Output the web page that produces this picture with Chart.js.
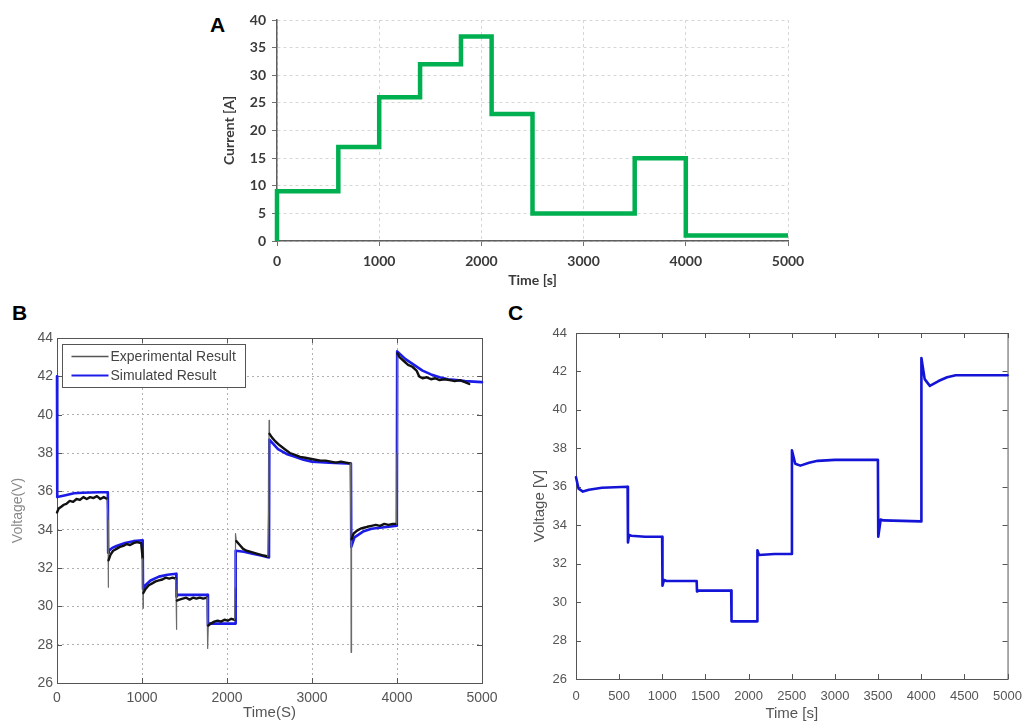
<!DOCTYPE html>
<html>
<head>
<meta charset="utf-8">
<title>Current and voltage profiles</title>
<script src="https://cdn.jsdelivr.net/npm/chart.js@4.4.1/dist/chart.umd.min.js"></script>
<style>
    body { margin: 0; background: #fff; width: 1032px; height: 724px; position: relative; overflow: hidden; }
    canvas { position: absolute; }
    .panel-letter { position: absolute; font: bold 21px "Liberation Sans", Arial, sans-serif; line-height: 21px; color: #000; }
</style>
</head>
<body>
<div class="panel-letter" style="left:210px; top:14px;">A</div>
<div class="panel-letter" style="left:12px; top:302px;">B</div>
<div class="panel-letter" style="left:508px; top:302px;">C</div>

<canvas id="chartA" width="620" height="295" style="left:200px; top:0px;"></canvas>
<canvas id="chartB" width="505" height="434" style="left:0px; top:290px;"></canvas>
<canvas id="chartC" width="532" height="434" style="left:500px; top:290px;"></canvas>

<script>
// Panel A - current profile (step levels between switching times)
const stepTimes = [0, 600, 1000, 1400, 1800, 2100, 2500, 3500, 4000, 5000];
const currentLevels = [9, 17, 26, 32, 37, 23, 5, 15, 1];

// Panel B - experimental voltage
const expTime = [
    0, 20, 50, 80, 110, 150, 190, 230, 270, 310, 350, 390, 430, 470, 510, 550, 590,
    600, 603, 606, 630, 660, 700, 740, 780, 820, 860, 900, 940, 990,
    1008, 1012, 1016, 1040, 1080, 1120, 1160, 1200, 1240, 1280, 1320, 1360, 1395,
    1400, 1404, 1410, 1440, 1480, 1520, 1560, 1600, 1640, 1680, 1720, 1765,
    1770, 1775, 1780, 1810, 1850, 1890, 1930, 1970, 2010, 2050, 2090,
    2095, 2100, 2110, 2150, 2190, 2230, 2270, 2310, 2350, 2390, 2430, 2480,
    2490, 2495, 2500, 2530, 2570, 2620, 2680, 2740, 2800, 2860, 2920, 2980, 3040, 3100, 3160, 3220, 3280, 3340, 3400, 3450,
    3458, 3460, 3465, 3490, 3530, 3570, 3610, 3650, 3700, 3750, 3800, 3850, 3900, 3950, 3995,
    4000, 4005, 4030, 4080, 4130, 4180, 4230, 4260, 4300, 4350, 4400, 4450, 4500, 4560, 4620, 4680, 4740, 4800, 4850
];
const expVolt = [
    34.9, 35.1, 35.2, 35.3, 35.35, 35.5, 35.45, 35.6, 35.55, 35.7, 35.6, 35.7, 35.65, 35.75, 35.6, 35.7, 35.6,
    34.5, 31.0, 32.4, 32.7, 32.9, 33.0, 33.1, 33.15, 33.25, 33.2, 33.3, 33.35, 33.3,
    32.5, 29.9, 30.7, 30.9, 31.1, 31.2, 31.3, 31.35, 31.4, 31.5, 31.45, 31.5, 31.45,
    30.8, 28.8, 30.3, 30.35, 30.4, 30.45, 30.35, 30.45, 30.4, 30.45, 30.4, 30.45,
    29.5, 27.8, 29.0, 29.1, 29.2, 29.25, 29.2, 29.3, 29.25, 29.35, 29.3,
    31.0, 33.8, 33.4, 33.2, 33.0, 32.9, 32.85, 32.8, 32.75, 32.7, 32.65, 32.6,
    35.0, 39.7, 39.0, 38.8, 38.6, 38.4, 38.2, 38.0, 37.9, 37.8, 37.75, 37.7, 37.65, 37.6, 37.6, 37.55, 37.5, 37.55, 37.5, 37.45,
    34.0, 27.6, 33.5, 33.8, 33.95, 34.05, 34.1, 34.15, 34.2, 34.25, 34.2, 34.3, 34.25, 34.3, 34.3,
    38.0, 43.2, 43.0, 42.8, 42.6, 42.5, 42.3, 42.0, 41.9, 41.95, 41.85, 41.9, 41.8, 41.85, 41.8, 41.75, 41.8, 41.7, 41.6
];

// Panel B - simulated voltage
const simTime = [
    0, 3, 100, 200, 300, 400, 500, 598,
    602, 610, 650, 700, 800, 900, 1008,
    1012, 1040, 1100, 1200, 1300, 1402,
    1406, 1420, 1772,
    1776, 1790, 2098,
    2102, 2200, 2300, 2400, 2494,
    2498, 2600, 2700, 2800, 2900, 3000, 3200, 3400, 3458,
    3462, 3500, 3600, 3700, 3800, 3900, 3998,
    4002, 4100, 4200, 4300, 4400, 4500, 4600, 4700, 4800, 5000
];
const simVolt = [
    42.0, 35.7, 35.8, 35.9, 35.93, 35.94, 35.95, 35.95,
    32.8, 32.9, 33.05, 33.15, 33.3, 33.4, 33.45,
    30.9, 31.1, 31.35, 31.55, 31.65, 31.7,
    30.5, 30.6, 30.6,
    29.0, 29.1, 29.1,
    32.9, 32.85, 32.75, 32.65, 32.55,
    38.7, 38.2, 37.95, 37.8, 37.65, 37.55, 37.5, 37.45, 37.45,
    33.1, 33.6, 33.9, 34.05, 34.1, 34.15, 34.2,
    43.3, 42.9, 42.6, 42.3, 42.1, 41.95, 41.85, 41.8, 41.75, 41.7
];

// Panel C - simulated voltage (second model)
const modelTime = [
    0, 30, 80, 150, 300, 598,
    602, 615, 640, 800, 998,
    1002, 1020, 1050, 1398,
    1402, 1420, 1798,
    1802, 2098,
    2102, 2120, 2300, 2498,
    2502, 2540, 2600, 2700, 2800, 3000, 3498,
    3502, 3530, 3560, 3998,
    4002, 4040, 4100, 4200, 4300, 4400, 4600, 5000
];
const modelVolt = [
    36.5, 35.9, 35.75, 35.85, 35.95, 36.0,
    33.1, 33.5, 33.45, 33.4, 33.4,
    30.85, 31.15, 31.1, 31.1,
    30.55, 30.6, 30.6,
    29.0, 29.0,
    32.7, 32.45, 32.5, 32.5,
    37.9, 37.2, 37.1, 37.25, 37.35, 37.4, 37.4,
    33.4, 34.3, 34.25, 34.2,
    42.7, 41.6, 41.25, 41.5, 41.7, 41.8, 41.8, 41.8
];

const voltTicks = { min: 26, max: 44, step: 2 };

Chart.defaults.animation = false;
Chart.defaults.font.family = '"Liberation Sans", Arial, sans-serif';
Chart.defaults.elements.line.borderJoinStyle = 'round';
Chart.defaults.elements.line.borderCapStyle = 'round';

// plain numbers on the axes, no thousands separator
const plainNumber = value => String(value);

function toPoints(xs, ys) {
    return xs.map((x, i) => ({ x: x, y: ys[i] }));
}

function stepPoints(times, levels) {
    const pts = [{ x: times[0], y: 0 }];
    levels.forEach((lvl, i) => {
        pts.push({ x: times[i], y: lvl }, { x: times[i + 1], y: lvl });
    });
    return pts;
}

// MATLAB style box with inward tick marks
const framePlugin = {
    id: 'matlabFrame',
    beforeDatasetsDraw(chart) {
        const { ctx, chartArea: a, scales } = chart;
        ctx.save();
        ctx.strokeStyle = '#555';
        ctx.lineWidth = 1;
        ctx.strokeRect(a.left + 0.5, a.top + 0.5, a.right - a.left, a.bottom - a.top);
        ctx.beginPath();
        scales.x.ticks.forEach(t => {
            const px = Math.round(scales.x.getPixelForValue(t.value)) + 0.5;
            ctx.moveTo(px, a.bottom); ctx.lineTo(px, a.bottom - 5);
            ctx.moveTo(px, a.top); ctx.lineTo(px, a.top + 5);
        });
        scales.y.ticks.forEach(t => {
            const py = Math.round(scales.y.getPixelForValue(t.value)) + 0.5;
            ctx.moveTo(a.left, py); ctx.lineTo(a.left + 5, py);
            ctx.moveTo(a.right, py); ctx.lineTo(a.right - 5, py);
        });
        ctx.stroke();
        ctx.restore();
    }
};

// Boxed legend drawn inside the plot area (top-left)
const boxLegendPlugin = {
    id: 'boxLegend',
    afterDatasetsDraw(chart) {
        const { ctx, chartArea: a } = chart;
        const x0 = a.left + 5.5, y0 = a.top + 6.5, w = 183, h = 43;
        ctx.save();
        ctx.fillStyle = '#fff';
        ctx.fillRect(x0, y0, w, h);
        ctx.strokeStyle = '#555';
        ctx.lineWidth = 1;
        ctx.strokeRect(x0, y0, w, h);
        ctx.font = '14px "Liberation Sans", Arial, sans-serif';
        ctx.textBaseline = 'middle';
        chart.data.datasets.forEach((ds, i) => {
            const y = y0 + 12 + i * 19;
            ctx.strokeStyle = ds.legendColor || ds.borderColor;
            ctx.lineWidth = ds.legendWidth || ds.borderWidth;
            ctx.beginPath();
            ctx.moveTo(x0 + 9, y);
            ctx.lineTo(x0 + 46, y);
            ctx.stroke();
            ctx.fillStyle = '#444';
            ctx.fillText(ds.label, x0 + 48, y + 1);
        });
        ctx.restore();
    }
};

function drawCurrentChart() {
    const boldFont = { family: 'Lato', weight: 'bold', size: 14 };
    new Chart(document.getElementById('chartA'), {
        type: 'line',
        data: {
            datasets: [{
                label: 'Current',
                data: stepPoints(stepTimes, currentLevels),
                borderColor: '#00b050',
                borderWidth: 4.5,
                borderJoinStyle: 'miter',
                borderCapStyle: 'butt',
                pointRadius: 0,
                tension: 0,
                clip: 6
            }]
        },
        options: {
            responsive: false,
            devicePixelRatio: 1,
            layout: { padding: { top: 20, right: 32, bottom: 0, left: 0 } },
            plugins: { legend: { display: false }, tooltip: { enabled: false } },
            scales: {
                x: {
                    type: 'linear', min: 0, max: 5000,
                    ticks: { stepSize: 1000, color: '#3a3a3a', font: boldFont, padding: 7, maxRotation: 0, callback: plainNumber },
                    grid: { color: '#d6d6d6', tickColor: '#707070', tickLength: 5 },
                    border: { color: '#5f5f5f', width: 1.5, dash: [3, 3] },
                    title: { display: true, text: 'Time [s]', color: '#3a3a3a', font: boldFont, padding: { top: 0, bottom: 6 } },
                    afterFit: scale => { scale.height = 54; }
                },
                y: {
                    min: 0, max: 40,
                    ticks: { stepSize: 5, color: '#3a3a3a', font: boldFont, padding: 6, callback: plainNumber },
                    grid: { color: '#d6d6d6', tickColor: '#707070', tickLength: 5 },
                    border: { color: '#5f5f5f', width: 1.5, dash: [3, 3] },
                    title: { display: true, text: 'Current [A]', color: '#3a3a3a', font: boldFont, padding: { top: 21, bottom: 0 } },
                    afterFit: scale => { scale.width = 77; }
                }
            }
        }
    });
}

function drawComparisonChart() {
    // switching transients are the very short segments - draw them thin and grey
    const transient = ctx => (ctx.p1.parsed.x - ctx.p0.parsed.x) < 11;
    new Chart(document.getElementById('chartB'), {
        type: 'line',
        data: {
            datasets: [{
                label: 'Experimental Result',
                data: toPoints(expTime, expVolt),
                borderColor: '#111',
                borderWidth: 2.4,
                legendColor: '#555',
                legendWidth: 1.5,
                pointRadius: 0,
                tension: 0,
                clip: 4,
                segment: {
                    borderColor: ctx => transient(ctx) ? '#6a6a6a' : undefined,
                    borderWidth: ctx => transient(ctx) ? 1.2 : undefined
                }
            }, {
                label: 'Simulated Result',
                data: toPoints(simTime, simVolt),
                borderColor: '#1c1ce8',
                borderWidth: 2.6,
                legendWidth: 2.2,
                pointRadius: 0,
                tension: 0,
                clip: 4
            }]
        },
        options: {
            responsive: false,
            devicePixelRatio: 1,
            layout: { padding: { top: 48, right: 23, bottom: 0, left: 0 } },
            plugins: { legend: { display: false }, tooltip: { enabled: false } },
            scales: {
                x: {
                    type: 'linear', min: 0, max: 5000,
                    ticks: { stepSize: 1000, color: '#555', font: { size: 14 }, padding: 7, maxRotation: 0, callback: plainNumber },
                    grid: { color: '#b0b0b0', drawTicks: false },
                    border: { display: false, dash: [2, 3] },
                    title: { display: true, text: 'Time(S)', color: '#555', font: { size: 15 }, padding: { top: 0, bottom: 2 } },
                    afterFit: scale => { scale.height = 41; }
                },
                y: {
                    min: voltTicks.min, max: voltTicks.max,
                    ticks: { stepSize: voltTicks.step, color: '#555', font: { size: 14 }, padding: 4, callback: plainNumber },
                    grid: { color: '#b0b0b0', drawTicks: false },
                    border: { display: false, dash: [2, 3] },
                    title: { display: true, text: 'Voltage(V)', color: '#8a8a8a', font: { size: 14 }, padding: { top: 10, bottom: 0 } },
                    afterFit: scale => { scale.width = 57; }
                }
            }
        },
        plugins: [framePlugin, boxLegendPlugin]
    });
}

function drawModelChart() {
    new Chart(document.getElementById('chartC'), {
        type: 'line',
        data: {
            datasets: [{
                label: 'Voltage',
                data: toPoints(modelTime, modelVolt),
                borderColor: '#1414d6',
                borderWidth: 2.6,
                pointRadius: 0,
                tension: 0,
                clip: 4
            }]
        },
        options: {
            responsive: false,
            devicePixelRatio: 1,
            layout: { padding: { top: 43, right: 23, bottom: 0, left: 0 } },
            plugins: { legend: { display: false }, tooltip: { enabled: false } },
            scales: {
                x: {
                    type: 'linear', min: 0, max: 5000,
                    ticks: { stepSize: 500, color: '#555', font: { size: 13 }, padding: 10, maxRotation: 0, autoSkip: false, callback: plainNumber },
                    grid: { display: false, drawTicks: false },
                    border: { display: false },
                    title: { display: true, text: 'Time [s]', color: '#555', font: { size: 15 }, padding: { top: 0, bottom: 1 } },
                    afterFit: scale => { scale.height = 45; }
                },
                y: {
                    min: voltTicks.min, max: voltTicks.max,
                    ticks: { stepSize: voltTicks.step, color: '#555', font: { size: 13 }, padding: 9, callback: plainNumber },
                    grid: { display: false, drawTicks: false },
                    border: { display: false },
                    title: { display: true, text: 'Voltage [V]', color: '#555', font: { size: 15 }, padding: { top: 31, bottom: 0 } },
                    afterFit: scale => { scale.width = 76; }
                }
            }
        },
        plugins: [framePlugin]
    });
}

drawCurrentChart();
drawComparisonChart();
drawModelChart();
</script>
</body>
</html>
